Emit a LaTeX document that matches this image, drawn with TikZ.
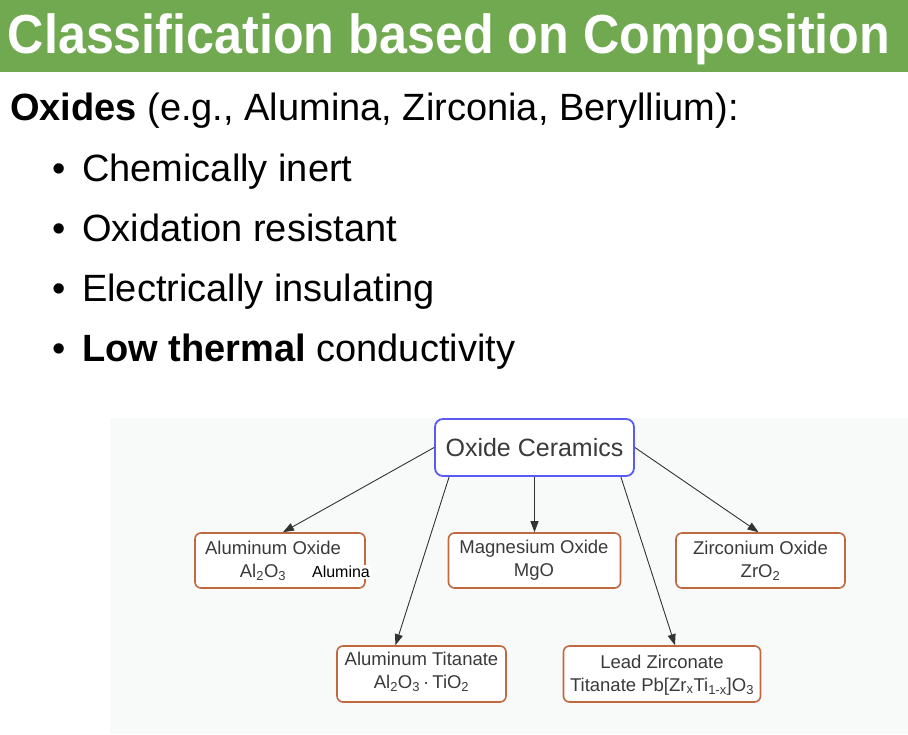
\documentclass[tikz,border=0pt]{standalone}
\usepackage{fontspec}
\setmainfont{Liberation Sans}
\usetikzlibrary{arrows.meta}
\definecolor{hdr}{HTML}{70A94F}
\definecolor{blu}{HTML}{5A5AF5}
\definecolor{brn}{HTML}{C0683F}
\definecolor{txt}{HTML}{3A3A3A}
\definecolor{arr}{HTML}{333333}
\definecolor{bgc}{HTML}{F8F9F9}
\tikzset{
  body/.style={anchor=base west, inner sep=0pt, font=\fontsize{38}{46}\selectfont},
  bul/.style={anchor=base west, inner sep=0pt, font=\fontsize{38}{46}\selectfont},
  obox/.style={draw=brn, line width=1.6pt, rounded corners=6pt, fill=white, inner sep=0pt},
  otext/.style={text=txt, align=center, inner sep=0pt, font=\fontsize{18.5}{23}\selectfont},
  conn/.style={draw=arr, line width=0.9pt, -{Triangle[length=11pt,width=8pt]}}
}
\begin{document}
\begin{tikzpicture}[x=1pt,y=-1pt]
\useasboundingbox (0,0) rectangle (908,734);
\fill[hdr] (0,0) rectangle (908,72);
\node[anchor=base, text=white, inner sep=0pt, font=\fontsize{50}{60}\selectfont\bfseries] (title) at (449,53) {\scalebox{1.005}[1.1]{Classification based on Composition}};

\node[body] (ox) at (10,120) {\textbf{Oxides} (e.g., Alumina, Zirconia, Beryllium):};
\node[bul] (d1) at (52,181) {•};
\node[body] (t1) at (82,181) {Chemically inert};
\node[bul] (d2) at (52,241) {•};
\node[body] (t2) at (82,241) {Oxidation resistant};
\node[bul] (d3) at (52,301) {•};
\node[body] (t3) at (82,301) {Electrically insulating};
\node[bul] (d4) at (52,361) {•};
\node[body] (t4) at (82,361) {\textbf{Low thermal} conductivity};

\fill[bgc] (110,418) rectangle (908,734);

\node[draw=blu, line width=1.8pt, rounded corners=8pt, fill=white, minimum width=199pt, minimum height=57pt, text=txt, font=\fontsize{25}{30}\selectfont] (oc) at (534.5,447.5) {Oxide Ceramics};

\node[obox, minimum width=170pt, minimum height=55pt] (ao) at (280,560.5) {};
\node[otext] (aot) at (273,560.5) {Aluminum Oxide\\Al\textsubscript{2}O\textsubscript{3}\hspace*{20pt}};
\node[obox, minimum width=172pt, minimum height=55pt] (mg) at (534.5,560.5) {};
\node[otext] (mgt) at (534,560.5) {Magnesium Oxide\\MgO};
\node[obox, minimum width=169pt, minimum height=55pt] (zo) at (760.5,560.5) {};
\node[otext] (zot) at (760.5,560.5) {Zirconium Oxide\\ZrO\textsubscript{2}};
\node[obox, minimum width=169pt, minimum height=56pt] (at) at (421.5,674) {};
\node[otext] (att) at (421.5,672) {Aluminum Titanate\\Al\textsubscript{2}O\textsubscript{3}\,·\,TiO\textsubscript{2}};
\node[obox, minimum width=197pt, minimum height=56pt] (lz) at (662,674) {};
\node[otext] (lzt) at (662,675) {Lead Zirconate\\Titanate Pb[Zr\textsubscript{x}Ti\textsubscript{1-x}]O\textsubscript{3}};

\node[fill=white, inner sep=1pt, text=black, font=\fontsize{16}{19}\selectfont] (alu) at (341,572) {Alumina};

\draw[conn] (oc.west) -- ([xshift=3pt]ao.north);
\draw[conn] ([xshift=15pt]oc.south west) -- ([xshift=-26pt]at.north);
\draw[conn] (oc.south) -- (mg.north);
\draw[conn] ([xshift=-14pt]oc.south east) -- ([xshift=13pt]lz.north);
\draw[conn] (oc.east) -- ([xshift=-2pt]zo.north);
\end{tikzpicture}
\end{document}
